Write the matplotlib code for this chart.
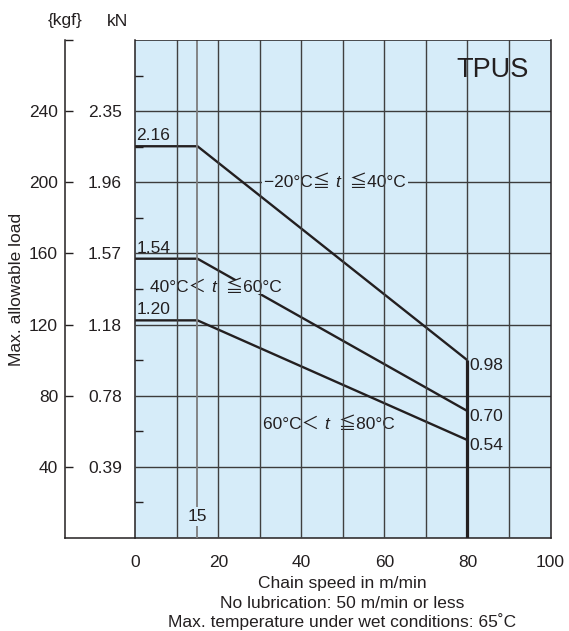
import matplotlib
matplotlib.use("Agg")
import matplotlib.pyplot as plt
import matplotlib.transforms as mtransforms
from matplotlib.patches import Rectangle

# ---- data -------------------------------------------------------------
G = 9.80665 / 1000.0          # kN per kgf
speed_pts = [0, 15, 80]       # m/min: flat to 15, linear decline to 80
load_upper = [2.16, 2.16, 0.98]   # kN, -20..40 degC
load_mid = [1.54, 1.54, 0.70]     # kN, 40..60 degC
load_low = [1.20, 1.20, 0.54]     # kN, 60..80 degC
max_speed = 80

kgf_ticks = [40, 80, 120, 160, 200, 240]
kn_labels = ["0.39", "0.78", "1.18", "1.57", "1.96", "2.35"]
minor_kgf = [20, 60, 100, 140, 180, 220, 260]
x_ticks = [0, 20, 40, 60, 80, 100]
v_grid = [10, 20, 30, 40, 50, 60, 70, 80, 90]

# ---- style ------------------------------------------------------------
BG = "#d6ecf9"
INK = "#231f20"
FAM = ["Liberation Sans", "Noto Sans CJK JP", "DejaVu Sans"]
plt.rcParams["font.family"] = FAM
FS = 12.5

fig = plt.figure(figsize=(5.69, 6.31), dpi=100)
ax = fig.add_axes([65 / 569, 1 - 538 / 631, (550.5 - 65) / 569, (538 - 40) / 631])
XMIN, XMAX, YMAX = -16.9, 100, 280
ax.set_xlim(XMIN, XMAX)
ax.set_ylim(0, YMAX)

# panel
ax.axvspan(0, XMAX, color=BG, zorder=0, lw=0)
ax.spines["top"].set_visible(False)
for s in ["left", "bottom", "right"]:
    ax.spines[s].set_color(INK)
    ax.spines[s].set_linewidth(1.1)
ax.hlines(YMAX, 0, XMAX, color=INK, lw=1.1, zorder=6)

# grid
ax.hlines(kgf_ticks, 0, XMAX, color="#3c3c3c", lw=1.0, zorder=1)
ax.vlines(v_grid, 0, YMAX, color="#404040", lw=1.0, zorder=5)
ax.vlines(15, 0, YMAX, color="#7d7d7d", lw=1.3, zorder=5)

# outer kgf axis
ax.set_yticks(kgf_ticks + [YMAX])
ax.set_yticklabels([str(v) for v in kgf_ticks] + [""])
ax.tick_params(axis="y", direction="in", length=5.5, width=1.0, color=INK,
               labelsize=FS, labelcolor=INK, pad=5)
ax.set_xticks(x_ticks)
ax.set_xticklabels([str(v) for v in x_ticks])
ax.tick_params(axis="x", length=0, labelsize=FS, labelcolor=INK, pad=12)

# inner kN axis along the left edge of the panel
sec = ax.secondary_yaxis((0 - XMIN) / (XMAX - XMIN))
sec.spines["left"].set_color(INK)
sec.spines["left"].set_linewidth(1.1)
sec.set_yticks(kgf_ticks)
sec.set_yticklabels(kn_labels)
sec.set_yticks(minor_kgf, minor=True)
sec.tick_params(axis="y", which="major", length=0, labelsize=FS,
                labelcolor=INK, pad=9.5)
sec.tick_params(axis="y", which="minor", direction="in", length=5.5,
                width=1.0, color=INK)

# curves (kN -> kgf)
for loads in (load_upper, load_mid, load_low):
    ax.plot(speed_pts, [v / G for v in loads], color=INK, lw=1.7,
            zorder=3, solid_joinstyle="miter", solid_capstyle="butt")
ax.vlines(max_speed, 0, load_upper[-1] / G, color=INK, lw=2.3, zorder=6)

# value labels
for loads in (load_upper, load_mid, load_low):
    ax.text(0.3, loads[0] / G + 3.3, f"{loads[0]:.2f}", fontsize=FS,
            color=INK, ha="left", va="baseline", zorder=7)
    ax.text(max_speed + 0.5, loads[-1] / G + 1, f"{loads[-1]:.2f}",
            fontsize=FS, color=INK, ha="left", va="top", zorder=7)

ax.text(15, 12, "15", fontsize=FS, color=INK, ha="center", va="center",
        zorder=7, bbox=dict(fc=BG, ec="none", pad=1.5))

ax.text(94.7, 270.5, "TPUS", fontsize=19.5, color=INK, ha="right",
        va="top", zorder=7)


def rich_label(x, y, pieces):
    """Lay out text runs side by side, centred on (x, y), over a panel-coloured patch."""
    renderer = fig.canvas.get_renderer()
    texts = []
    for s, st in pieces:
        fam = ["Liberation Sans"] if st == "italic" else FAM
        texts.append(ax.text(x, y, s, fontsize=FS, style=st, family=fam,
                             color=INK, ha="left", va="center", zorder=4))
    widths = [t.get_window_extent(renderer).width for t in texts]
    off = -sum(widths) / 2
    for t, w in zip(texts, widths):
        t.set_transform(mtransforms.offset_copy(
            ax.transData, fig=fig, x=off * 72 / fig.dpi, y=0, units="points"))
        off += w
    ext = mtransforms.Bbox.union([t.get_window_extent(renderer) for t in texts])
    inv = ax.transData.inverted()
    (x0, y0), (x1, y1) = inv.transform([[ext.x0 - 2, ext.y0 + 1],
                                        [ext.x1 + 2, ext.y1 - 1]])
    ax.add_patch(Rectangle((x0, y0), x1 - x0, y1 - y0, fc=BG, ec="none",
                           zorder=3.5))


rich_label(48.1, 200, [("\u221220\u00b0C\u2266 ", "normal"), ("t", "italic"),
                       ("  \u226640\u00b0C", "normal")])
rich_label(19.4, 141, [("40\u00b0C\uff1c ", "normal"), ("t", "italic"),
                       ("  \u226660\u00b0C", "normal")])
rich_label(46.7, 64, [("60\u00b0C\uff1c ", "normal"), ("t", "italic"),
                      ("  \u226680\u00b0C", "normal")])

# titles and notes
fig.text(65 / 569, 1 - 21 / 631, "{kgf}", fontsize=FS, color=INK,
         ha="center", va="center")
fig.text(118 / 569, 1 - 21 / 631, "kN", fontsize=FS, color=INK,
         ha="center", va="center")
fig.text(17 / 569, 1 - 289 / 631, "Max. allowable load", fontsize=FS,
         color=INK, ha="center", va="center", rotation=90)
cx = 342.5 / 569
for ypx, s in [(588, "Chain speed in m/min"),
               (608, "No lubrication: 50 m/min or less"),
               (627, "Max. temperature under wet conditions: 65\u02daC")]:
    fig.text(cx, 1 - ypx / 631, s, fontsize=FS, color=INK, ha="center",
             va="baseline")

fig.savefig("out.png", dpi=100)
